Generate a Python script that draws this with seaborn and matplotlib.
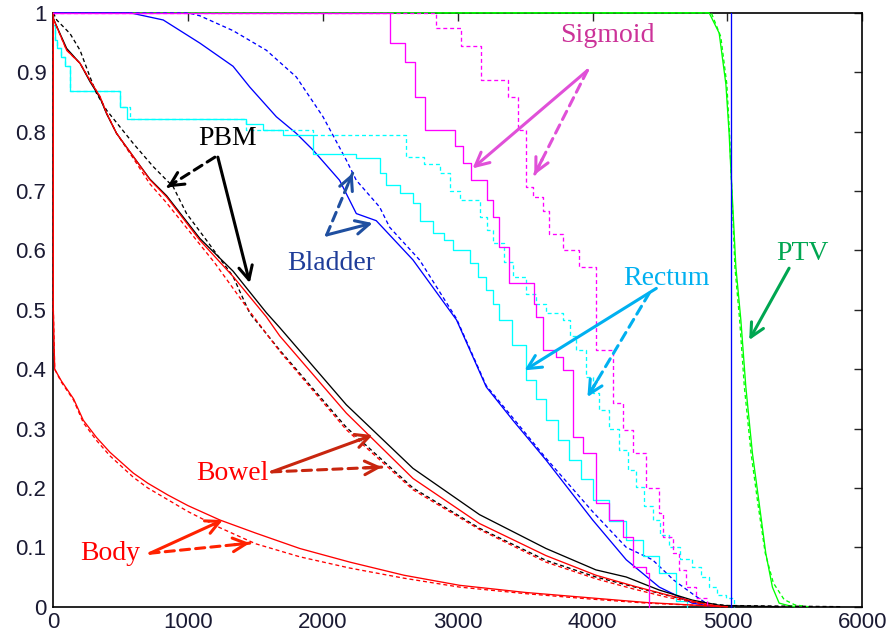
import matplotlib
matplotlib.use("Agg")
import matplotlib.pyplot as plt
import seaborn as sns
import pandas as pd

# Dose-volume histograms (dose on x, fractional volume on y)
# solid = plan, dashed = comparison

body_x = [0, 0, 10, 60, 150, 222, 320, 420, 593, 700, 850, 1000, 1235, 1500, 1828, 2200, 2600, 3013, 3500, 3976, 4400, 4800, 5000]
body_y = [1.0, 0.5, 0.40, 0.38, 0.35, 0.314, 0.285, 0.26, 0.225, 0.208, 0.188, 0.170, 0.146, 0.124, 0.098, 0.075, 0.053, 0.036, 0.024, 0.015, 0.007, 0.002, 0.0]
body_dx = [0, 0, 10, 60, 150, 222, 320, 420, 593, 700, 850, 1000, 1235, 1500, 1828, 2200, 2600, 3013, 3500, 3976, 4400, 4800, 5000]
body_dy = [1.0, 0.5, 0.40, 0.378, 0.348, 0.31, 0.28, 0.254, 0.218, 0.2, 0.18, 0.16, 0.133, 0.106, 0.084, 0.065, 0.048, 0.033, 0.022, 0.013, 0.006, 0.002, 0.0]

bowel_x = [0, 99, 198, 272, 346, 395, 469, 593, 716, 840, 1087, 1333, 1580, 1679, 2173, 2667, 3161, 3654, 4024, 4300, 4550, 4800, 4950]
bowel_y = [0.99, 0.937, 0.915, 0.886, 0.859, 0.831, 0.797, 0.758, 0.719, 0.69, 0.617, 0.556, 0.488, 0.456, 0.326, 0.216, 0.14, 0.086, 0.053, 0.035, 0.02, 0.006, 0.0]
bowel_dx = [0, 99, 198, 272, 346, 395, 469, 593, 716, 840, 1087, 1200, 1457, 1679, 2173, 2667, 3161, 3654, 4024, 4300, 4550, 4800, 4950]
bowel_dy = [0.99, 0.937, 0.915, 0.886, 0.859, 0.831, 0.797, 0.755, 0.712, 0.68, 0.61, 0.578, 0.497, 0.43, 0.298, 0.197, 0.13, 0.075, 0.047, 0.03, 0.016, 0.005, 0.0]

pbm_x = [0, 99, 198, 272, 346, 395, 469, 593, 716, 840, 1087, 1333, 1580, 1679, 2173, 2667, 3161, 3654, 4024, 4249, 4494, 4741, 4950, 5380]
pbm_y = [0.99, 0.94, 0.915, 0.884, 0.857, 0.83, 0.797, 0.758, 0.72, 0.692, 0.62, 0.565, 0.495, 0.47, 0.34, 0.233, 0.155, 0.098, 0.062, 0.05, 0.028, 0.011, 0.002, 0.0]
pbm_dx = [0, 25, 124, 198, 272, 321, 395, 494, 593, 741, 889, 988, 1136, 1333, 1457, 1679, 2173, 2667, 3161, 3654, 4024, 4400, 4750, 5000, 5850]
pbm_dy = [1.0, 0.988, 0.965, 0.937, 0.892, 0.864, 0.836, 0.808, 0.78, 0.741, 0.707, 0.662, 0.617, 0.556, 0.494, 0.432, 0.302, 0.2, 0.132, 0.078, 0.05, 0.028, 0.008, 0.002, 0.0]

bladder_x = [0, 570, 815, 1087, 1333, 1457, 1654, 1802, 1926, 2123, 2247, 2395, 2667, 2990, 3211, 3408, 3654, 4000, 4249, 4494, 4738, 4900]
bladder_y = [1.0, 1.0, 0.988, 0.949, 0.91, 0.875, 0.825, 0.797, 0.769, 0.718, 0.662, 0.65, 0.584, 0.483, 0.37, 0.314, 0.247, 0.146, 0.079, 0.033, 0.006, 0.0]
bladder_dx = [0, 1000, 1087, 1333, 1580, 1802, 2000, 2173, 2247, 2420, 2494, 2716, 2990, 3211, 3408, 3654, 4000, 4249, 4444, 4600, 4750, 4880]
bladder_dy = [1.0, 1.0, 0.995, 0.97, 0.937, 0.892, 0.825, 0.752, 0.718, 0.673, 0.639, 0.584, 0.485, 0.372, 0.318, 0.25, 0.16, 0.1, 0.079, 0.045, 0.02, 0.0]

rectum_x = [0, 10, 30, 60, 90, 123, 495, 545, 1432, 1556, 1703, 1927, 2247, 2420, 2470, 2570, 2667, 2716, 2815, 2900, 2964, 3087, 3150, 3211, 3260, 3309, 3400, 3507, 3580, 3654, 3740, 3828, 3910, 4000, 4120, 4249, 4370, 4494, 4617, 4700]
rectum_y = [0.98, 0.955, 0.94, 0.925, 0.91, 0.868, 0.841, 0.822, 0.812, 0.802, 0.794, 0.763, 0.755, 0.73, 0.71, 0.696, 0.679, 0.65, 0.63, 0.617, 0.6, 0.578, 0.555, 0.533, 0.51, 0.483, 0.44, 0.382, 0.35, 0.314, 0.28, 0.247, 0.215, 0.18, 0.145, 0.112, 0.085, 0.056, 0.01, 0.0]
rectum_dx = [0, 10, 30, 60, 90, 123, 495, 570, 1432, 1927, 2618, 2750, 2865, 2940, 3013, 3161, 3220, 3260, 3340, 3408, 3507, 3580, 3654, 3777, 3830, 3877, 3951, 4000, 4049, 4120, 4198, 4260, 4321, 4380, 4444, 4500, 4568, 4650, 4740, 4800, 4864, 4920, 4988, 5050]
rectum_dy = [0.98, 0.955, 0.94, 0.925, 0.91, 0.868, 0.841, 0.822, 0.802, 0.794, 0.757, 0.745, 0.73, 0.70, 0.684, 0.657, 0.635, 0.612, 0.58, 0.555, 0.527, 0.51, 0.494, 0.483, 0.455, 0.432, 0.387, 0.36, 0.331, 0.3, 0.264, 0.23, 0.202, 0.17, 0.146, 0.12, 0.10, 0.08, 0.067, 0.05, 0.033, 0.02, 0.015, 0.0]

sigmoid_x = [0, 2494, 2605, 2680, 2754, 2976, 3037, 3100, 3220, 3260, 3309, 3383, 3568, 3580, 3630, 3728, 3777, 3852, 3926, 4024, 4123, 4222, 4296, 4395, 4420]
sigmoid_y = [1.0, 0.95, 0.917, 0.858, 0.802, 0.775, 0.747, 0.718, 0.684, 0.656, 0.606, 0.545, 0.51, 0.488, 0.432, 0.42, 0.399, 0.286, 0.258, 0.174, 0.146, 0.118, 0.067, 0.056, 0.0]
sigmoid_dx = [0, 2840, 3026, 3174, 3371, 3445, 3507, 3556, 3630, 3679, 3777, 3902, 4024, 4148, 4222, 4296, 4395, 4494, 4519, 4593, 4642, 4691, 4765, 4850]
sigmoid_dy = [1.0, 0.975, 0.945, 0.887, 0.858, 0.802, 0.707, 0.69, 0.667, 0.628, 0.60, 0.572, 0.432, 0.343, 0.297, 0.258, 0.2, 0.157, 0.118, 0.09, 0.062, 0.033, 0.015, 0.0]

ptv_x = [0, 4864, 4938, 4988, 5012, 5024, 5037, 5062, 5099, 5136, 5185, 5235, 5284, 5333, 5383, 5450, 5500]
ptv_y = [1.0, 1.0, 0.966, 0.88, 0.797, 0.74, 0.684, 0.572, 0.483, 0.37, 0.258, 0.174, 0.09, 0.033, 0.006, 0.002, 0.0]
ptv_dx = [0, 4880, 4950, 4995, 5015, 5025, 5035, 5055, 5090, 5125, 5175, 5225, 5280, 5340, 5420, 5500, 5600]
ptv_dy = [1.0, 1.0, 0.96, 0.88, 0.797, 0.74, 0.684, 0.572, 0.483, 0.37, 0.258, 0.174, 0.09, 0.04, 0.012, 0.003, 0.0]

rx_x = [5025, 5025]
rx_y = [0.0, 1.0]

xticks = [0, 1000, 2000, 3000, 4000, 5000, 6000]
yticks = [0, 0.1, 0.2, 0.3, 0.4, 0.5, 0.6, 0.7, 0.8, 0.9, 1]

sns.set_style("white")
plt.rcParams['font.family'] = ['Liberation Sans', 'DejaVu Sans']

fig = plt.figure(figsize=(8.89, 6.42), dpi=100)
ax = fig.add_axes([0.06, 0.055, 0.91, 0.925])

dash = (3, 2.2)
curves = [
    # x, y, colour, dashed, steps
    (ptv_dx, ptv_dy, '#00ff00', True, False),
    (ptv_x, ptv_y, '#00ff00', False, False),
    (bladder_dx, bladder_dy, '#0000ff', True, False),
    (bladder_x, bladder_y, '#0000ff', False, False),
    (rectum_dx, rectum_dy, '#00ffff', True, True),
    (rectum_x, rectum_y, '#00ffff', False, True),
    (pbm_dx, pbm_dy, '#000000', True, False),
    (bowel_dx, bowel_dy, '#ff0000', True, False),
    (pbm_x, pbm_y, '#000000', False, False),
    (bowel_x, bowel_y, '#ff0000', False, False),
    (body_dx, body_dy, '#ff0000', True, False),
    (body_x, body_y, '#ff0000', False, False),
    (sigmoid_dx, sigmoid_dy, '#ff00ff', True, True),
    (sigmoid_x, sigmoid_y, '#ff00ff', False, True),
    (rx_x, rx_y, '#0000ff', False, False),
]
for cx, cy, col, dashed, steps in curves:
    kw = dict(dashes=dash) if dashed else {}
    sns.lineplot(x=cx, y=cy, ax=ax, color=col, lw=0.95, estimator=None, sort=False,
                 drawstyle='steps-post' if steps else 'default',
                 clip_on=False, zorder=3, **kw)

ax.set_xlim(0, 6000)
ax.set_ylim(0, 1)
ax.set_xticks(xticks)
ax.set_yticks(yticks)
ax.set_xticklabels([str(t) for t in xticks])
ax.set_yticklabels(['%g' % t for t in yticks])
ax.tick_params(direction='in', top=True, right=True, length=6, width=1,
               labelsize=16, labelcolor='#1a1a33')
ax.tick_params(axis='y', pad=5)
ax.tick_params(axis='x', pad=4)
for s in ax.spines.values():
    s.set_color('black')
    s.set_linewidth(1.2)


def label(txt, x, y, col):
    ax.text(x, y, txt, color=col, fontsize=20, family='Liberation Serif',
            ha='center', va='center')


def arrow(start, end, col, dashed=False):
    head = dict(arrowstyle='->,head_length=0.7,head_width=0.35', lw=2.2, color=col,
                shrinkA=0, shrinkB=0, mutation_scale=14)
    if not dashed:
        ax.annotate('', xy=end, xytext=start, arrowprops=head)
        return
    ax.annotate('', xy=end, xytext=start,
                arrowprops=dict(arrowstyle='-', lw=2.2, color=col, linestyle=(0, (3, 2)),
                                shrinkA=0, shrinkB=0))
    mid = (start[0] + 0.85 * (end[0] - start[0]), start[1] + 0.85 * (end[1] - start[1]))
    ax.annotate('', xy=end, xytext=mid, arrowprops=head)


label('Sigmoid', 4110, 0.962, '#cc3399')
arrow((3961, 0.903), (3109, 0.738), '#e050d8')
arrow((3961, 0.903), (3567, 0.727), '#e050d8', dashed=True)

label('PBM', 1294, 0.789, 'black')
arrow((1198, 0.757), (842, 0.706), 'black', dashed=True)
arrow((1220, 0.757), (1457, 0.545), 'black')

label('Bladder', 2064, 0.578, '#1f3d99')
arrow((2027, 0.626), (2368, 0.646), '#1f4fa0')
arrow((2027, 0.626), (2220, 0.730), '#1f4fa0', dashed=True)

label('Rectum', 4546, 0.553, '#00b0f0')
arrow((4472, 0.536), (3494, 0.398), '#00b0f0')
arrow((4420, 0.528), (3961, 0.353), '#00b0f0', dashed=True)

label('PTV', 5553, 0.595, '#00a651')
arrow((5457, 0.570), (5161, 0.449), '#00a651')

label('Bowel', 1331, 0.225, '#ff0000')
arrow((1620, 0.227), (2368, 0.289), '#c8260f')
arrow((1620, 0.227), (2435, 0.235), '#c8260f', dashed=True)

label('Body', 421, 0.090, '#ff0000')
arrow((717, 0.090), (1257, 0.146), '#ff2200')
arrow((717, 0.090), (1457, 0.107), '#ff2200', dashed=True)

fig.savefig('out.png', dpi=100)
